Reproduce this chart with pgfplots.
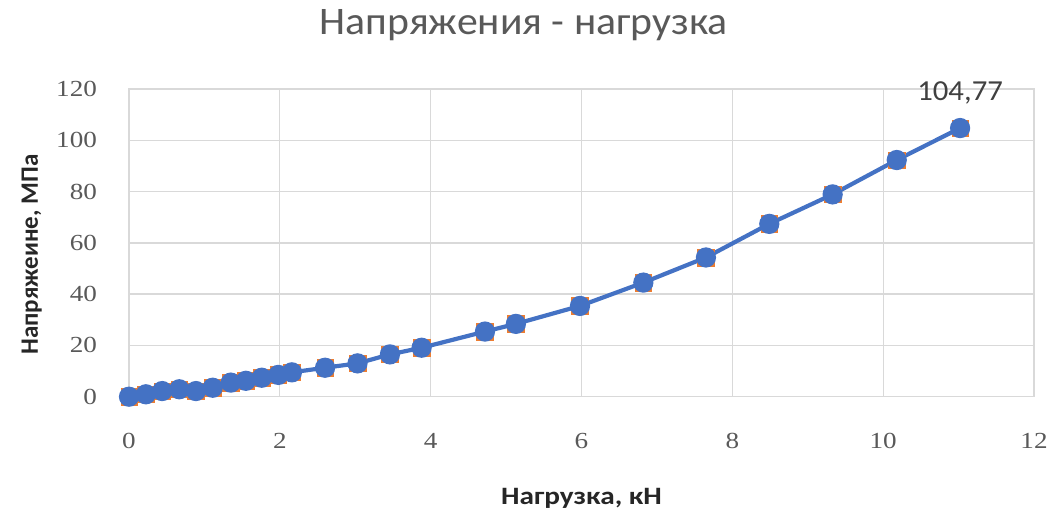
\documentclass[border=0pt]{standalone}
\usepackage{fontspec}
\setmainfont{Carlito}
\newfontfamily\tickfont{Liberation Serif}
\usepackage{pgfplots}
\pgfplotsset{compat=1.18}
\definecolor{xlblue}{HTML}{4472C4}
\definecolor{xlorange}{HTML}{ED7D31}
\definecolor{gridgray}{HTML}{D9D9D9}
\definecolor{txtgray}{HTML}{595959}
\begin{document}
\begin{tikzpicture}
\path[use as bounding box] (0,0) rectangle (1049bp,-514bp);
\begin{axis}[
  at={(129bp,-396.7bp)}, anchor=south west,
  scale only axis, width=905bp, height=307.7bp,
  xmin=0, xmax=12, ymin=0, ymax=120,
  xtick={0,2,...,12}, ytick={0,20,...,120},
  grid=major, major grid style={gridgray, line width=1.3bp},
  axis line style={gridgray, line width=1.3bp},
  major tick length=0pt,
  /pgf/number format/assume math mode=true,
  ticklabel style={font=\tickfont\fontsize{23bp}{28bp}\selectfont, text=txtgray, inner sep=0pt, xscale=1.18},
  yticklabel style={anchor=east, xshift=-27bp},
  xticklabel style={anchor=north, yshift=-36bp},
  title={Напряжения - нагрузка},
  title style={at={(axis description cs:0.436,1.159)}, anchor=base, font=\fontsize{39bp}{44bp}\selectfont, text=txtgray, inner sep=0pt, xscale=1.07},
  xlabel={Нагрузка, кН},
  xlabel style={at={(axis description cs:0.5,-0.351)}, anchor=base, font=\bfseries\fontsize{25bp}{30bp}\selectfont, text=black!85, inner sep=0pt, xscale=1.17},
  ylabel={Напряжеине, МПа},
  ylabel style={at={(axis description cs:-0.1006,0.462)}, anchor=base, rotate=0, font=\bfseries\fontsize{25bp}{30bp}\selectfont, text=black!85, inner sep=0pt},
  clip=false,
]
\addplot[only marks, color=xlorange, mark=square*, mark size=8.3bp, mark options={fill=xlorange, draw=xlorange}] coordinates {
(0,0) (0.224,0.94) (0.44,2.2) (0.667,2.9) (0.887,2.2) (1.11,3.5) (1.35,5.5) (1.55,6.2) (1.76,7.4) (1.98,8.5) (2.16,9.5) (2.60,11.3) (3.03,13.0) (3.46,16.5) (3.88,19.1) (4.72,25.4) (5.13,28.4) (5.98,35.4) (6.82,44.5) (7.65,54.3) (8.49,67.4) (9.33,78.9) (10.18,92.3) (11.02,104.77)
};
\addplot[color=xlblue, line width=4.2bp, mark=*, mark size=8bp, mark options={fill=xlblue, draw=none}] coordinates {
(0,0) (0.224,0.94) (0.44,2.2) (0.667,2.9) (0.887,2.2) (1.11,3.5) (1.35,5.5) (1.55,6.2) (1.76,7.4) (1.98,8.5) (2.16,9.5) (2.60,11.3) (3.03,13.0) (3.46,16.5) (3.88,19.1) (4.72,25.4) (5.13,28.4) (5.98,35.4) (6.82,44.5) (7.65,54.3) (8.49,67.4) (9.33,78.9) (10.18,92.3) (11.02,104.77)
};
\node[anchor=base, yshift=28bp, inner sep=0pt, font=\fontsize{29bp}{34bp}\selectfont, text=black!75, xscale=1.06] at (axis cs:11.02,104.77) {104,77};
\end{axis}
\end{tikzpicture}
\end{document}
